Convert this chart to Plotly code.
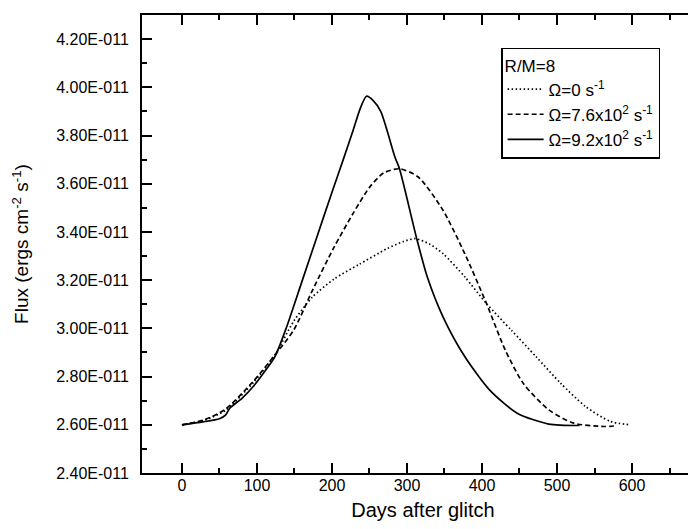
import plotly.graph_objects as go

# ---- data (flux in units of 1e-11 ergs cm^-2 s^-1) ----
days_w0 = [0, 29, 58, 95, 124, 149, 174, 203, 236, 273, 295, 311, 330, 348, 377, 406, 439, 472, 505, 538, 571, 598]
flux_w0 = [2.600, 2.618, 2.660, 2.775, 2.890, 3.030, 3.130, 3.205, 3.265, 3.330, 3.360, 3.372, 3.350, 3.310,
           3.214, 3.103, 2.993, 2.883, 2.772, 2.676, 2.614, 2.600]

days_w76 = [0, 29, 58, 95, 124, 149, 174, 203, 228, 250, 269, 290, 315, 348, 377, 406, 431, 455, 489, 522, 563, 580]
flux_w76 = [2.600, 2.620, 2.665, 2.780, 2.890, 2.993, 3.158, 3.338, 3.476, 3.585, 3.645, 3.662, 3.628, 3.490,
            3.310, 3.103, 2.910, 2.772, 2.662, 2.607, 2.593, 2.596]

days_w92 = [0, 28, 50, 58, 64, 80, 95, 110, 124, 140, 160, 180, 200, 215, 228, 238, 246, 255, 265, 284, 290,
            313, 327, 348, 377, 410, 447, 489, 530]
flux_w92 = [2.600, 2.612, 2.625, 2.640, 2.670, 2.710, 2.759, 2.820, 2.883, 3.010, 3.195, 3.380, 3.565, 3.700,
            3.820, 3.915, 3.963, 3.945, 3.900, 3.710, 3.662, 3.372, 3.214, 3.048, 2.883, 2.745, 2.648, 2.603, 2.597]

names = ["Ω=0 s<sup>-1</sup>", "Ω=7.6x10<sup>2</sup> s<sup>-1</sup>", "Ω=9.2x10<sup>2</sup> s<sup>-1</sup>"]
legend_title = "R/M=8"

y_tickvals = [2.40, 2.60, 2.80, 3.00, 3.20, 3.40, 3.60, 3.80, 4.00, 4.20]
y_ticktext = ["2.40E-011", "2.60E-011", "2.80E-011", "3.00E-011", "3.20E-011",
              "3.40E-011", "3.60E-011", "3.80E-011", "4.00E-011", "4.20E-011"]
y_minorvals = [2.50, 2.70, 2.90, 3.10, 3.30, 3.50, 3.70, 3.90, 4.10]
x_tickvals = [0, 100, 200, 300, 400, 500, 600]
x_minorvals = [50, 150, 250, 350, 450, 550, 650]

scale = 1e-11

FONT = "Liberation Sans, Arial, sans-serif"

fig = go.Figure()
styles = [dict(dash="1.5px,2.5px", width=1.7), dict(dash="5px,3px", width=1.7), dict(dash="solid", width=1.7)]
series = [(days_w0, flux_w0), (days_w76, flux_w76), (days_w92, flux_w92)]
for (d, f), nm, st in zip(series, names, styles):
    fig.add_trace(go.Scatter(
        x=d, y=[v * scale for v in f], mode="lines", name=nm,
        line=dict(color="black", shape="spline", smoothing=0.7, **st),
    ))

axis_common = dict(
    showline=True, linecolor="black", linewidth=2,
    ticks="inside", tickcolor="black", tickwidth=1.5, ticklen=10,
    showgrid=False, zeroline=False,
    tickfont=dict(family=FONT, size=16, color="black"),
)

fig.update_layout(
    width=696, height=529,
    margin=dict(l=134, r=0, t=7, b=64),
    paper_bgcolor="white", plot_bgcolor="white",
    font=dict(family=FONT, color="black"),
    xaxis=dict(
        range=[-53.3, 696], tickmode="array", tickvals=x_tickvals, mirror="ticks",
        minor=dict(tickmode="array", tickvals=x_minorvals, ticks="inside", ticklen=5,
                   tickwidth=1.5, tickcolor="black", showgrid=False),
        title=dict(text="Days after glitch", font=dict(family=FONT, size=20, color="black"), standoff=10),
        ticklabelstandoff=-3,
        **axis_common,
    ),
    yaxis=dict(
        range=[2.40 * scale, 4.30 * scale], tickmode="array", mirror=False,
        tickvals=[v * scale for v in y_tickvals], ticktext=y_ticktext,
        minor=dict(tickmode="array", tickvals=[v * scale for v in y_minorvals], ticks="inside",
                   ticklen=5, tickwidth=1.5, tickcolor="black", showgrid=False),
        title=dict(text="Flux (ergs cm<sup>-2</sup> s<sup>-1</sup>)",
                   font=dict(family=FONT, size=19, color="black"), standoff=22),
        ticklabelstandoff=8,
        **axis_common,
    ),
    legend=dict(
        x=0.639, y=0.928, xanchor="left", yanchor="top",
        bordercolor="black", borderwidth=1.5, bgcolor="white",
        font=dict(family=FONT, size=17, color="black"),
        title=dict(text=legend_title, font=dict(family=FONT, size=17, color="black")),
        itemwidth=36,
    ),
    showlegend=True,
)

fig.write_html("out.html")
